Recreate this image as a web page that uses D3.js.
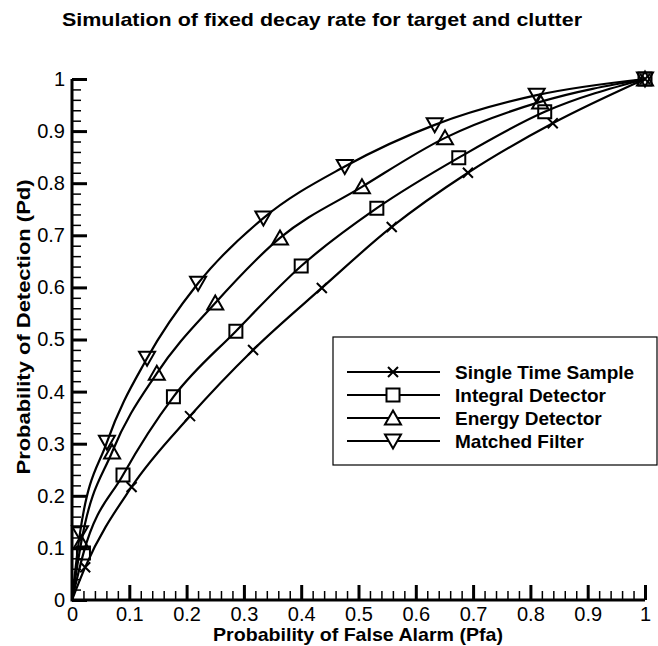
<!DOCTYPE html>
<html>
<head>
<meta charset="utf-8">
<script src="https://d3js.org/d3.v7.min.js"></script>
<style>
  html, body { margin: 0; padding: 0; background: #fff; }
  svg { display: block; font-family: "Liberation Sans", Arial, sans-serif; }
</style>
</head>
<body>
<svg id="chart" width="658" height="646"></svg>
<script>
// ROC curves: probability of false alarm (x) vs probability of detection (y)
const seriesNames = ["Single Time Sample", "Integral Detector", "Energy Detector", "Matched Filter"];
const seriesSymbols = ["cross", "square", "triangleUp", "triangleDown"];

const singleTimeSample = [
  [0, 0], [0.023, 0.063], [0.104, 0.217], [0.206, 0.353], [0.316, 0.480],
  [0.436, 0.599], [0.558, 0.716], [0.691, 0.820], [0.839, 0.915], [1, 1]
];
const integralDetector = [
  [0, 0], [0.020, 0.090], [0.089, 0.240], [0.177, 0.390], [0.286, 0.516],
  [0.400, 0.641], [0.532, 0.752], [0.675, 0.849], [0.825, 0.937], [1, 1]
];
const energyDetector = [
  [0, 0], [0.016, 0.110], [0.070, 0.284], [0.148, 0.435], [0.250, 0.570],
  [0.363, 0.695], [0.506, 0.793], [0.651, 0.887], [0.817, 0.956], [1, 1]
];
const matchedFilter = [
  [0, 0], [0.014, 0.129], [0.061, 0.303], [0.131, 0.464], [0.220, 0.608],
  [0.334, 0.733], [0.476, 0.832], [0.633, 0.912], [0.811, 0.969], [1, 1]
];
const allSeries = [singleTimeSample, integralDetector, energyDetector, matchedFilter];

const xTicks = [0, 0.1, 0.2, 0.3, 0.4, 0.5, 0.6, 0.7, 0.8, 0.9, 1];
const yTicks = [0, 0.1, 0.2, 0.3, 0.4, 0.5, 0.6, 0.7, 0.8, 0.9, 1];
const minorStep = 0.02;

const svg = d3.select("#chart");
const x = d3.scaleLinear().domain([0, 1]).range([72, 645]);
const y = d3.scaleLinear().domain([0, 1]).range([600, 79]);

const fmt = d => (d === 0 || d === 1) ? String(d) : d.toFixed(1);
const minorTicks = d3.range(0, 1.0001, minorStep).map(v => +v.toFixed(2));

// Title
svg.append("text")
  .attr("x", 322).attr("y", 26)
  .attr("text-anchor", "middle")
  .attr("font-size", 19).attr("font-weight", "bold")
  .attr("textLength", 520).attr("lengthAdjust", "spacingAndGlyphs")
  .text("Simulation of fixed decay rate for target and clutter");

// X axis (ticks pointing inward)
const gx = svg.append("g").attr("transform", `translate(0,${y(0)})`);
gx.call(d3.axisBottom(x).tickValues(minorTicks).tickSize(-9).tickFormat(""))
  .call(g => g.select(".domain").remove())
  .call(g => g.selectAll(".tick line").attr("stroke-width", 1.5));
const gxMajor = svg.append("g").attr("transform", `translate(0,${y(0)})`);
gxMajor.call(d3.axisBottom(x).tickValues(xTicks).tickSize(-15).tickPadding(7).tickFormat(fmt))
  .call(g => g.select(".domain").remove())
  .call(g => g.selectAll(".tick line").attr("stroke-width", 3))
  .call(g => g.selectAll(".tick text").attr("font-size", 20).attr("fill", "#000")
      .attr("font-family", "Liberation Sans, Arial, sans-serif").attr("dy", "0.72em"));

// Y axis (ticks pointing inward)
const gy = svg.append("g").attr("transform", `translate(${x(0)},0)`);
gy.call(d3.axisLeft(y).tickValues(minorTicks).tickSize(-9).tickFormat(""))
  .call(g => g.select(".domain").remove())
  .call(g => g.selectAll(".tick line").attr("stroke-width", 1.5));
const gyMajor = svg.append("g").attr("transform", `translate(${x(0)},0)`);
gyMajor.call(d3.axisLeft(y).tickValues(yTicks).tickSize(-15).tickPadding(7).tickFormat(fmt))
  .call(g => g.select(".domain").remove())
  .call(g => g.selectAll(".tick line").attr("stroke-width", 3))
  .call(g => g.selectAll(".tick text").attr("font-size", 20).attr("fill", "#000")
      .attr("font-family", "Liberation Sans, Arial, sans-serif"));

// Axis lines
svg.append("line").attr("x1", x(0)).attr("x2", x(1)).attr("y1", y(0)).attr("y2", y(0))
  .attr("stroke", "#000").attr("stroke-width", 3);
svg.append("line").attr("x1", x(0)).attr("x2", x(0)).attr("y1", y(0) + 1.5).attr("y2", y(1))
  .attr("stroke", "#000").attr("stroke-width", 3);

// Axis titles
svg.append("text")
  .attr("x", 358).attr("y", 641)
  .attr("text-anchor", "middle")
  .attr("font-size", 19).attr("font-weight", "bold")
  .attr("textLength", 290).attr("lengthAdjust", "spacingAndGlyphs")
  .text("Probability of False Alarm (Pfa)");
svg.append("text")
  .attr("transform", "translate(30,327) rotate(-90)")
  .attr("text-anchor", "middle")
  .attr("font-size", 19).attr("font-weight", "bold")
  .attr("textLength", 295).attr("lengthAdjust", "spacingAndGlyphs")
  .text("Probability of Detection (Pd)");

// Marker shapes
function markerPath(type) {
  switch (type) {
    case "cross": return "M-5,-5L5,5M-5,5L5,-5";
    case "square": return "M-6.5,-6.5H6.5V6.5H-6.5Z";
    case "triangleUp": return "M0,-7.5L8,6.5H-8Z";
    case "triangleDown": return "M0,7.5L8,-6.5H-8Z";
  }
}

// Curves
const line = d3.line().x(d => x(d[0])).y(d => y(d[1])).curve(d3.curveMonotoneX);
allSeries.forEach((data, i) => {
  svg.append("path").datum(data)
    .attr("d", line)
    .attr("fill", "none").attr("stroke", "#000").attr("stroke-width", 2.2);
  svg.append("g").selectAll("path")
    .data(data.slice(1))
    .join("path")
    .attr("transform", d => `translate(${x(d[0])},${y(d[1])})`)
    .attr("d", markerPath(seriesSymbols[i]))
    .attr("fill", "none").attr("stroke", "#000").attr("stroke-width", 2);
});

// Legend
const legend = svg.append("g");
legend.append("rect")
  .attr("x", 333).attr("y", 337).attr("width", 324).attr("height", 128)
  .attr("fill", "#fff").attr("stroke", "#000").attr("stroke-width", 1.2);
seriesNames.forEach((name, i) => {
  const ly = 372 + i * 23;
  legend.append("line").attr("x1", 347).attr("x2", 440).attr("y1", ly).attr("y2", ly)
    .attr("stroke", "#000").attr("stroke-width", 2.2);
  legend.append("path").attr("transform", `translate(393,${ly})`)
    .attr("d", markerPath(seriesSymbols[i]))
    .attr("fill", "#fff").attr("stroke", "#000").attr("stroke-width", 2);
  legend.append("text").attr("x", 455).attr("y", ly + 7)
    .attr("font-size", 19).attr("font-weight", "bold")
    .text(name);
});
</script>
</body>
</html>
